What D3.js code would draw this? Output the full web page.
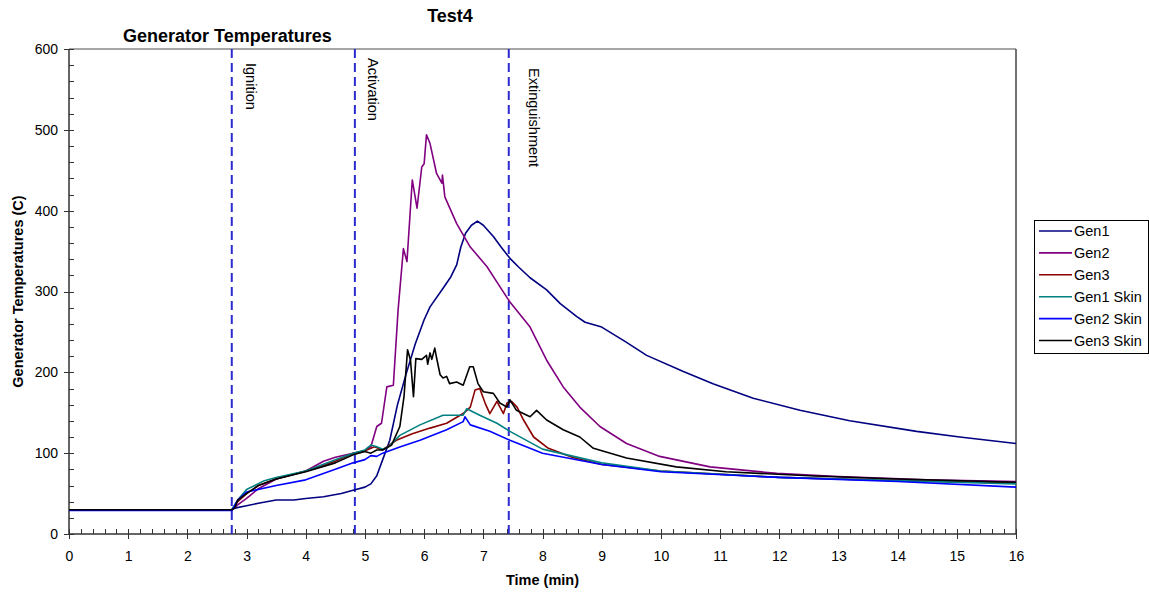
<!DOCTYPE html>
<html>
<meta charset="utf-8">
<style>

body {
  margin: 0;
  font: 14.5px Arial, "Liberation Sans", sans-serif;
  background: #fff;
}

.axis path {
  display: none;
}

.axis line {
  stroke: #333;
  shape-rendering: crispEdges;
}

.axis text {
  font: 14px Arial, "Liberation Sans", sans-serif;
  fill: #000;
}

.event {
  stroke: #2b2bd0;
  stroke-width: 2px;
  stroke-dasharray: 9, 5;
}

.series {
  fill: none;
  stroke-width: 1.6px;
  stroke-linejoin: round;
}

.title {
  font: bold 18px Arial, "Liberation Sans", sans-serif;
}

.label {
  font: bold 14.5px Arial, "Liberation Sans", sans-serif;
}

</style>
<body>
<script src="https://cdn.jsdelivr.net/npm/d3@7"></script>
<script>

// time (min), temperature (C)
var gen1 = [[0, 30], [2.75, 30], [2.8, 32], [3.0, 35], [3.2, 38], [3.5, 42], [3.8, 42], [4.0, 44],
  [4.3, 46], [4.6, 50], [4.8, 54], [5.0, 58], [5.1, 62], [5.2, 72], [5.3, 92], [5.42, 116],
  [5.55, 160], [5.7, 199], [5.85, 235], [6.0, 265], [6.1, 281], [6.32, 304], [6.45, 318],
  [6.55, 333], [6.62, 355], [6.7, 372], [6.8, 382], [6.9, 387], [7.0, 382], [7.17, 368],
  [7.3, 355], [7.45, 341], [7.6, 330], [7.79, 317], [8.07, 302], [8.3, 285], [8.58, 269],
  [8.72, 262], [9.0, 256], [9.4, 238], [9.76, 221], [10.38, 201], [10.88, 186], [11.56, 168],
  [12.35, 153], [13.19, 140], [14.32, 127], [15.05, 120], [16, 112]];

var gen2 = [[0, 30], [2.75, 30], [2.85, 36], [3.0, 44], [3.2, 56], [3.5, 68], [4.0, 78],
  [4.3, 90], [4.5, 95], [4.8, 100], [5.0, 103], [5.1, 108], [5.2, 133], [5.28, 137],
  [5.37, 182], [5.48, 184], [5.56, 277], [5.65, 353], [5.71, 337], [5.8, 438], [5.88, 403],
  [5.96, 454], [6.0, 458], [6.04, 494], [6.1, 483], [6.21, 446], [6.3, 434], [6.31, 444],
  [6.35, 417], [6.55, 384], [6.78, 355], [7.06, 331], [7.28, 306], [7.45, 287], [7.79, 256],
  [8.07, 215], [8.35, 182], [8.63, 157], [8.97, 133], [9.42, 112], [9.98, 96], [10.83, 83],
  [11.96, 75], [13, 71], [14.5, 67], [16, 65]];

var gen3 = [[0, 30], [2.75, 30], [2.85, 40], [3.0, 50], [3.2, 60], [3.5, 68], [4.0, 78],
  [4.5, 90], [4.8, 100], [5.0, 103], [5.16, 108], [5.3, 104], [5.53, 116], [5.8, 124],
  [6.1, 131], [6.38, 137], [6.66, 149], [6.78, 157], [6.86, 178], [6.94, 180], [7.03, 162],
  [7.11, 149], [7.23, 164], [7.34, 149], [7.4, 162], [7.48, 164], [7.57, 157], [7.68, 141],
  [7.85, 120], [8.1, 106], [8.5, 95], [9.0, 86], [10.0, 78], [12.0, 70], [14.0, 66], [16, 63]];

var gen1Skin = [[0, 30], [2.75, 30], [2.85, 42], [3.0, 55], [3.3, 66], [3.5, 70], [4.0, 78],
  [4.5, 92], [4.8, 100], [5.0, 104], [5.1, 110], [5.2, 108], [5.3, 105], [5.4, 108],
  [5.59, 122], [5.93, 135], [6.32, 147], [6.66, 147], [6.72, 155], [6.94, 147], [7.23, 137],
  [7.45, 127], [8.0, 105], [9.0, 88], [10.0, 78], [12.0, 70], [14.0, 66], [16, 62]];

var gen2Skin = [[0, 29], [2.75, 29], [2.85, 42], [3.0, 52], [3.5, 60], [4.0, 67], [4.5, 80],
  [4.8, 88], [5.0, 92], [5.1, 97], [5.2, 96], [5.3, 100], [5.6, 108], [5.93, 116],
  [6.38, 129], [6.66, 139], [6.69, 145], [6.78, 135], [7.11, 127], [7.45, 116], [8.0, 100],
  [9.0, 86], [10.0, 77], [12.0, 70], [14.0, 65], [16, 58]];

var gen3Skin = [[0, 30], [2.75, 30], [2.8, 32], [2.85, 42], [3.0, 50], [3.2, 60], [3.5, 68],
  [4.0, 77], [4.5, 88], [4.8, 98], [5.0, 102], [5.1, 100], [5.2, 104], [5.3, 104],
  [5.45, 110], [5.59, 133], [5.66, 170], [5.72, 228], [5.77, 215], [5.82, 170], [5.86, 217],
  [5.96, 216], [6.04, 221], [6.06, 210], [6.1, 224], [6.13, 216], [6.18, 230], [6.21, 218],
  [6.27, 197], [6.32, 193], [6.38, 195], [6.43, 186], [6.55, 188], [6.66, 184], [6.77, 207],
  [6.83, 207], [6.91, 186], [7.0, 176], [7.17, 174], [7.28, 162], [7.4, 157], [7.45, 166],
  [7.56, 153], [7.79, 145], [7.9, 153], [8.07, 141], [8.35, 129], [8.63, 120], [8.86, 106],
  [9.42, 94], [10.26, 83], [11.1, 77], [12.5, 72], [14.0, 68], [16, 64]];

var seriesNames = ["Gen1", "Gen2", "Gen3", "Gen1 Skin", "Gen2 Skin", "Gen3 Skin"];
var seriesData = [gen1, gen2, gen3, gen1Skin, gen2Skin, gen3Skin];
var seriesColors = ["#000080", "#800080", "#8b0000", "#008080", "#0000ff", "#000000"];

var eventNames = ["Ignition", "Activation", "Extinguishment"];
var eventTimes = [2.75, 4.83, 7.43];

var xTicks = d3.range(0, 17, 1);
var yTicks = d3.range(0, 700, 100);

var margin = {top: 49, right: 133, bottom: 60, left: 69},
    width = 1149 - margin.left - margin.right,
    height = 594 - margin.top - margin.bottom;

var svg = d3.select("body").append("svg")
    .attr("width", 1149)
    .attr("height", 594);

var g = svg.append("g")
    .attr("transform", "translate(" + margin.left + "," + margin.top + ")");

var x = d3.scaleLinear()
    .domain([0, 16])
    .range([0, width]);

var y = d3.scaleLinear()
    .domain([0, 600])
    .range([height, 0]);

// plot frame: grey top, dark right
g.append("line")
    .attr("x2", width)
    .attr("stroke", "#888")
    .attr("stroke-width", 1.5);

g.append("line")
    .attr("x1", width)
    .attr("x2", width)
    .attr("y2", height)
    .attr("stroke", "#444")
    .attr("stroke-width", 1.5);

// minor ticks inside the plot
g.append("g")
    .attr("class", "axis")
    .attr("transform", "translate(0," + height + ")")
    .call(d3.axisTop(x).tickValues(d3.range(0, 16.01, 0.2)).tickSize(5).tickFormat(""));

g.append("g")
    .attr("class", "axis")
    .call(d3.axisRight(y).tickValues(d3.range(0, 601, 20)).tickSize(5).tickFormat(""));

// major ticks crossing the axis
g.append("g")
    .attr("class", "axis")
    .attr("transform", "translate(0," + (height - 4) + ")")
    .call(d3.axisBottom(x).tickValues(xTicks).tickSize(9).tickPadding(12));

g.append("g")
    .attr("class", "axis")
    .attr("transform", "translate(4,0)")
    .call(d3.axisLeft(y).tickValues(yTicks).tickSize(9).tickPadding(6));

g.append("line")
    .attr("y2", height)
    .attr("stroke", "#333")
    .attr("stroke-width", 1.5);

g.append("line")
    .attr("y1", height)
    .attr("y2", height)
    .attr("x2", width)
    .attr("stroke", "#333")
    .attr("stroke-width", 1.5);

var line = d3.line()
    .x(function(d) { return x(d[0]); })
    .y(function(d) { return y(d[1]); });

// event markers
var labelDx = [14, 13, 20],
    labelDy = [14, 9, 19];

g.selectAll(".event")
    .data(eventTimes)
  .enter().append("line")
    .attr("class", "event")
    .attr("x1", function(d) { return x(d); })
    .attr("x2", function(d) { return x(d); })
    .attr("y1", 0)
    .attr("y2", height);

g.selectAll(".event-label")
    .data(eventNames)
  .enter().append("text")
    .attr("class", "event-label")
    .attr("transform", function(d, i) {
      return "translate(" + (x(eventTimes[i]) + labelDx[i]) + "," + labelDy[i] + ") rotate(90)";
    })
    .text(function(d) { return d; });

g.selectAll(".series")
    .data(seriesData)
  .enter().append("path")
    .attr("class", "series")
    .attr("stroke", function(d, i) { return seriesColors[i]; })
    .attr("d", line);

// titles
svg.append("text")
    .attr("class", "title")
    .attr("x", 450)
    .attr("y", 22)
    .attr("text-anchor", "middle")
    .text("Test4");

svg.append("text")
    .attr("class", "title")
    .attr("x", 123)
    .attr("y", 42)
    .text("Generator Temperatures");

svg.append("text")
    .attr("class", "label")
    .attr("transform", "translate(23," + (margin.top + height / 2) + ") rotate(-90)")
    .attr("text-anchor", "middle")
    .text("Generator Temperatures (C)");

svg.append("text")
    .attr("class", "label")
    .attr("x", margin.left + width / 2)
    .attr("y", 585)
    .attr("text-anchor", "middle")
    .text("Time (min)");

// legend
var legend = svg.append("g")
    .attr("transform", "translate(1034,220)");

legend.append("rect")
    .attr("width", 114)
    .attr("height", 133)
    .attr("fill", "#fff")
    .attr("stroke", "#000")
    .attr("shape-rendering", "crispEdges");

var item = legend.selectAll(".item")
    .data(seriesNames)
  .enter().append("g")
    .attr("transform", function(d, i) { return "translate(0," + (11 + i * 21.9) + ")"; });

item.append("line")
    .attr("x1", 5)
    .attr("x2", 38)
    .attr("stroke-width", 1.6)
    .attr("stroke", function(d, i) { return seriesColors[i]; });

item.append("text")
    .attr("x", 40)
    .attr("y", 5)
    .text(function(d) { return d; });

</script>
</body>
</html>
